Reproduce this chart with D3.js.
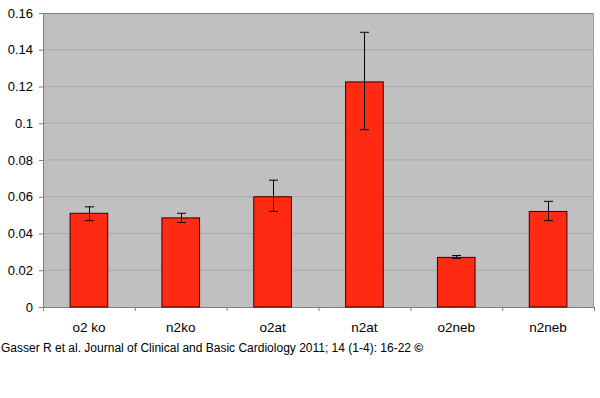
<!DOCTYPE html>
<html>
<head>
<meta charset="utf-8">
<script src="https://cdn.jsdelivr.net/npm/d3@7"></script>
<style>
  body { margin: 0; background: #fff; }
  text { font-family: "Liberation Sans", Arial, sans-serif; }
</style>
</head>
<body>
<div id="chart"></div>
<script>
const categories = ['o2 ko', 'n2ko', 'o2at', 'n2at', 'o2neb', 'n2neb'];
const means = [0.051, 0.0485, 0.060, 0.1225, 0.027, 0.052];
const errLow = [0.047, 0.046, 0.052, 0.0965, 0.0265, 0.047];
const errHigh = [0.0545, 0.051, 0.069, 0.1495, 0.028, 0.0575];
const yTicks = [0, 0.02, 0.04, 0.06, 0.08, 0.1, 0.12, 0.14, 0.16];

const width = 600, height = 398;
const margin = { top: 13, right: 6, bottom: 91, left: 43 };
const innerW = width - margin.left - margin.right;
const innerH = height - margin.top - margin.bottom;

const svg = d3.select('#chart')
  .append('svg')
  .attr('width', width)
  .attr('height', height);

const g = svg.append('g')
  .attr('transform', `translate(${margin.left}, ${margin.top})`);

const x = d3.scaleBand().domain(categories).range([0, innerW]).paddingInner(0.59).paddingOuter(0.295);
const xb = d3.scaleBand().domain(categories).range([0, innerW]);
const y = d3.scaleLinear().domain([0, 0.16]).range([innerH, 0]);

// plot background
g.append('rect')
  .attr('width', innerW)
  .attr('height', innerH)
  .attr('fill', '#c0c0c0');

// gridlines
g.selectAll('line.grid')
  .data(yTicks.filter(d => d > 0 && d < 0.16))
  .enter()
  .append('line')
  .attr('class', 'grid')
  .attr('x1', 0).attr('x2', innerW)
  .attr('y1', d => y(d)).attr('y2', d => y(d))
  .attr('stroke', '#a9a9a9')
  .attr('stroke-width', 1);

// frame: top and right
g.append('line').attr('x1', 0).attr('x2', innerW).attr('y1', 0.5).attr('y2', 0.5)
  .attr('stroke', '#808080');
g.append('line').attr('x1', innerW - 0.5).attr('x2', innerW - 0.5).attr('y1', 0).attr('y2', innerH)
  .attr('stroke', '#a0a0a0');

// y axis
const yAxis = g.append('g')
  .call(d3.axisLeft(y).tickValues(yTicks).tickSize(4).tickPadding(6)
    .tickFormat(d => d === 0 ? '0' : String(+d.toFixed(2))));
yAxis.select('.domain').attr('stroke', '#808080');
yAxis.selectAll('.tick line').attr('stroke', '#808080');
yAxis.selectAll('text').attr('font-size', 13).attr('fill', '#000')
  .style('font-family', '"Liberation Sans", Arial, sans-serif');

// x axis with ticks at category boundaries
const xAxis = g.append('g')
  .attr('transform', `translate(0, ${innerH})`)
  .call(d3.axisBottom(x).tickSize(0).tickPadding(15));
xAxis.select('.domain').attr('stroke', '#808080');
xAxis.selectAll('text').attr('font-size', 13.5).attr('fill', '#000')
  .style('font-family', '"Liberation Sans", Arial, sans-serif');
g.selectAll('line.xtick')
  .data(categories.concat(['end']))
  .enter()
  .append('line')
  .attr('class', 'xtick')
  .attr('x1', (d, i) => i * xb.bandwidth() + 0.5)
  .attr('x2', (d, i) => i * xb.bandwidth() + 0.5)
  .attr('y1', innerH).attr('y2', innerH + 4)
  .attr('stroke', '#808080');

// bars
g.selectAll('rect.bar')
  .data(means)
  .enter()
  .append('rect')
  .attr('class', 'bar')
  .attr('x', (d, i) => x(categories[i]))
  .attr('y', d => y(d))
  .attr('width', x.bandwidth())
  .attr('height', d => innerH - y(d))
  .attr('fill', '#ff2a12')
  .attr('stroke', '#3a0000')
  .attr('stroke-width', 1);

// error bars
const eb = g.selectAll('g.err')
  .data(categories)
  .enter()
  .append('g')
  .attr('class', 'err')
  .attr('transform', d => `translate(${Math.round(x(d) + x.bandwidth() / 2) + 0.5}, 0)`);
eb.append('line')
  .attr('y1', (d, i) => y(errLow[i])).attr('y2', (d, i) => y(errHigh[i]))
  .attr('stroke', '#000');
eb.append('line')
  .attr('x1', -4.5).attr('x2', 4.5)
  .attr('y1', (d, i) => y(errLow[i])).attr('y2', (d, i) => y(errLow[i]))
  .attr('stroke', '#000');
eb.append('line')
  .attr('x1', -4.5).attr('x2', 4.5)
  .attr('y1', (d, i) => y(errHigh[i])).attr('y2', (d, i) => y(errHigh[i]))
  .attr('stroke', '#000');

// citation
svg.append('text')
  .attr('x', 1)
  .attr('y', 352)
  .attr('font-size', 12)
  .attr('fill', '#000')
  .text('Gasser R et al. Journal of Clinical and Basic Cardiology 2011; 14 (1-4): 16-22 ')
  .append('tspan')
  .attr('font-weight', 'bold')
  .text('©');
</script>
</body>
</html>
